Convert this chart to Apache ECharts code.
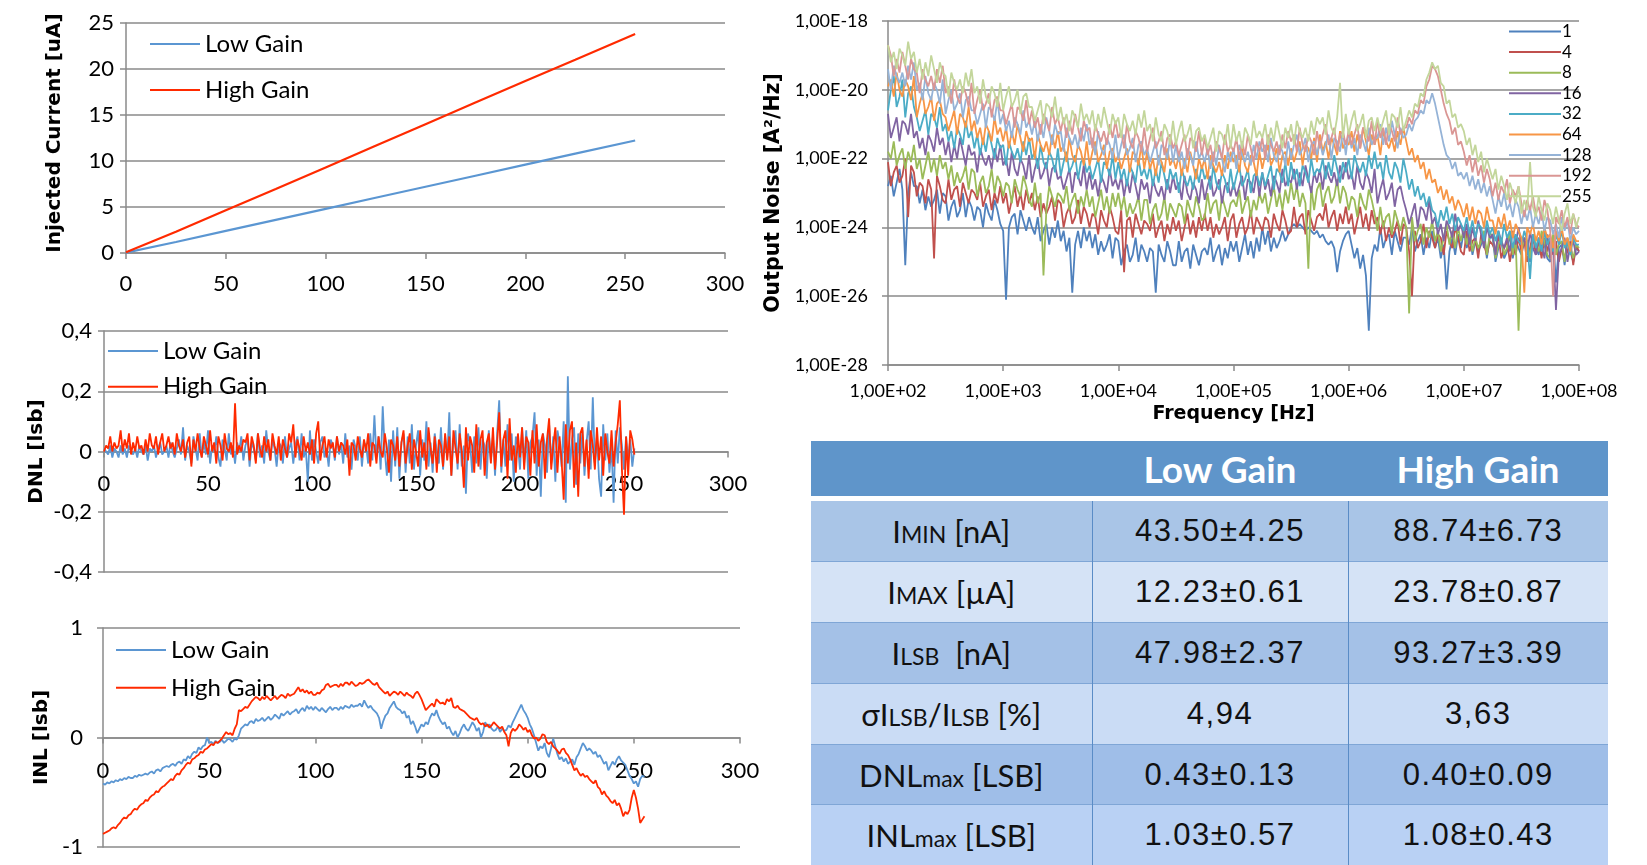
<!DOCTYPE html>
<html>
<head>
<meta charset="utf-8">
<script src="https://cdn.jsdelivr.net/npm/echarts@6/dist/echarts.min.js"></script>
<style>
  body { margin: 0; background: #fff; }
  #chart { position: absolute; left: 0; top: 0; width: 1647px; height: 865px; }
  #tbl { position: absolute; left: 811px; top: 441px; width: 797px; border-collapse: collapse; table-layout: fixed; font-family: Lato, sans-serif; }
  #tbl th { background: #5f95ca; color: #fff; font-weight: bold; font-size: 37px; height: 55px; padding: 0; border-bottom: 5px solid #fff; }
  #tbl td { height: 59.9px; padding: 0; text-align: center; border-left: 1.5px solid #5a8cc6; border-top: 1.5px solid #7fa6d6; color: #111; }
  #tbl td.lab { font-size: 31px; border-left: none; }
  #tbl td.val { font-family: "Liberation Sans", Arial, sans-serif; font-size: 31px; letter-spacing: 1.5px; }
  #tbl small { font-size: 23px; }
</style>
</head>
<body>
<div id="chart"></div>
<table id="tbl">
  <colgroup><col style="width:281px"><col style="width:256px"><col style="width:260px"></colgroup>
  <tr><th></th><th>Low Gain</th><th>High Gain</th></tr>
  <tr style="background:#a9c5e7"><td class="lab">I<small>MIN</small> [nA]</td><td class="val">43.50±4.25</td><td class="val">88.74±6.73</td></tr>
  <tr style="background:#d5e3f6"><td class="lab">I<small>MAX</small> [µA]</td><td class="val">12.23±0.61</td><td class="val">23.78±0.87</td></tr>
  <tr style="background:#a4c1e7"><td class="lab">I<small>LSB</small>&nbsp; [nA]</td><td class="val">47.98±2.37</td><td class="val">93.27±3.39</td></tr>
  <tr style="background:#cadcf5"><td class="lab">σI<small>LSB</small>/I<small>LSB</small> [%]</td><td class="val">4,94</td><td class="val">3,63</td></tr>
  <tr style="background:#9fbee8"><td class="lab">DNL<small>max</small> [LSB]</td><td class="val">0.43±0.13</td><td class="val">0.40±0.09</td></tr>
  <tr style="background:#b9d1f4"><td class="lab">INL<small>max</small> [LSB]</td><td class="val">1.03±0.57</td><td class="val">1.08±0.43</td></tr>
</table>
<script>
// 注入电流 (uA) 与 DAC 码
const currentCodes = [0, 25, 50, 75, 100, 125, 150, 175, 200, 225, 255]
const currentLow = [0.04, 1.2, 2.4, 3.6, 4.8, 6.0, 7.2, 8.4, 9.6, 10.8, 12.23]
const currentHigh = [0.09, 2.3, 4.65, 6.95, 9.3, 11.65, 14.0, 16.35, 18.7, 21.0, 23.8]

// DNL [lsb], 码 0..255
const dnlLow = [
  .01,.00,-.01,.02,-.02,.01,.00,-.02,.02,-.01,
  .01,-.02,.02,.00,-.01,.01,-.02,.02,.00,-.01,
  .02,-.03,.01,.00,.02,-.02,.01,.03,-.01,.00,
  .02,-.02,.03,.00,-.02,.01,.04,-.01,.08,-.03,
  .02,.00,-.04,.05,.01,-.03,.06,-.02,.03,-.01,
  .07,-.04,.02,.00,.05,-.02,-.05,.04,.01,-.03,
  .06,-.01,.02,-.04,.03,.00,.05,-.03,.02,.04,
  -.05,.03,.01,-.03,.06,-.02,.02,-.04,.07,.00,
  -.03,.04,.01,-.05,.03,.02,-.04,.05,-.02,.01,
  .03,-.04,.02,.05,-.03,.06,-.02,.01,-.10,.07,
  -.03,.04,.00,-.04,.03,.05,-.02,.01,-.05,.04,
  .02,-.03,.05,-.01,.03,-.04,.06,-.02,.02,-.06,
  .04,.01,-.03,.05,-.05,.03,.02,-.04,.06,-.03,
  .12,-.02,.05,-.06,.15,.00,-.08,.04,-.10,.07,
  -.05,.08,-.09,.03,.06,-.07,.05,-.04,.09,-.06,
  .02,.07,-.08,.04,-.03,.10,-.05,.03,-.07,.06,
  .00,-.04,.08,-.06,.05,-.02,.13,-.08,.04,.07,
  -.06,.09,-.05,.02,-.14,.06,.03,-.07,.05,-.04,
  .08,-.06,.04,.02,-.09,.07,-.03,.05,-.08,.06,
  .17,-.07,.04,-.05,.09,-.03,.06,-.10,.05,.02,
  -.06,.08,-.04,.07,-.09,.03,.05,.13,-.08,.04,
  -.15,.06,.02,-.07,.09,-.04,.05,-.10,.07,.03,
  -.05,.10,-.17,.25,-.06,.04,.08,-.11,.06,-.04,
  .07,-.08,.03,.10,-.06,.18,-.04,.05,-.09,-.15,
  .09,-.03,.06,-.07,.02,-.17,.07,-.04,.08,.02,
  -.06,.05,-.03,.04,-.05,.01
]
const dnlHigh = [
  .00,.02,.01,.05,.00,.03,.01,.02,.07,.00,
  .04,.01,.06,-.01,.03,.00,.05,.01,.02,-.01,
  .04,.00,.06,.02,.01,.05,-.01,.03,.06,.00,
  .02,.05,.01,.03,-.01,.06,.02,.00,.04,-.02,
  .03,.05,-.05,.04,.00,.06,.01,-.02,.05,.02,
  -.01,.07,.00,.03,-.04,.05,.02,-.03,.06,.01,
  .00,.03,-.02,.16,-.01,.02,.00,.04,.03,.06,
  -.03,.05,.02,-.04,.06,.01,-.02,.05,.00,.04,
  -.03,.06,.02,-.01,.05,-.03,.04,.01,-.02,.06,
  .03,.09,-.02,.04,.01,-.03,.05,.00,.03,-.01,
  .04,-.04,.06,.10,-.03,.02,.05,-.02,.04,.01,
  .03,-.02,.05,.00,.03,.02,-.01,.04,-.08,.03,
  .02,-.03,.05,.01,-.02,.04,.00,.06,-.05,.03,
  .02,-.04,.05,.00,-.02,.06,.01,-.07,.04,.02,
  -.03,.05,-.05,.03,.07,-.04,.02,.06,-.06,.04,
  .00,-.05,.07,-.02,.03,-.06,.08,.01,-.04,.05,
  -.07,.04,.02,-.05,.06,-.03,.05,-.08,.07,.01,
  -.04,.06,.00,-.12,.08,-.03,.05,.02,-.07,.09,
  -.05,.04,.07,-.08,.03,.06,-.04,.08,-.06,.03,
  .13,-.05,.04,.07,-.09,.11,-.03,.02,-.07,.06,
  -.02,.08,-.06,.05,.03,-.08,.07,-.04,.09,-.05,
  .03,.06,-.09,.04,.11,-.06,.02,.08,-.07,.05,
  -.03,-.16,.09,-.04,.07,.10,-.12,.03,-.15,.06,
  .08,-.05,.04,-.09,.07,.02,-.06,.08,-.03,.05,
  -.08,.06,.00,-.04,.07,-.05,.03,.09,.17,-.06,
  -.21,.05,-.08,.07,.04,-.01
]

// INL [lsb], 码 0..255
const inlLow = [
  -.42,-.43,-.41,-.42,-.40,-.41,-.39,-.40,-.38,-.39,
  -.37,-.38,-.36,-.37,-.37,-.35,-.36,-.34,-.35,-.34,
  -.33,-.34,-.32,-.31,-.33,-.30,-.29,-.31,-.28,-.27,
  -.26,-.27,-.25,-.24,-.26,-.23,-.22,-.24,-.20,-.21,
  -.17,-.19,-.15,-.13,-.14,-.09,-.11,-.08,-.07,.00,
  -.05,-.04,-.06,-.03,-.05,-.04,-.02,-.05,-.03,-.01,
  -.02,-.04,-.01,-.02,.02,.08,.10,.12,.11,.14,
  .15,.13,.17,.15,.16,.18,.15,.17,.19,.16,
  .18,.21,.19,.17,.22,.20,.22,.24,.21,.23,
  .24,.26,.22,.25,.27,.24,.29,.26,.28,.25,
  .28,.26,.24,.27,.25,.23,.26,.28,.25,.27,
  .27,.25,.28,.26,.29,.28,.27,.30,.28,.29,
  .29,.31,.28,.34,.30,.27,.29,.26,.24,.22,
  .18,.08,.15,.20,.22,.27,.30,.33,.28,.26,
  .25,.22,.24,.18,.20,.12,.15,.10,.04,.08,
  .12,.10,.14,.12,.18,.22,.20,.25,.19,.15,
  .12,.14,.08,.10,.05,.02,.06,.00,.04,.09,
  .12,.08,.06,.10,.14,.11,.06,.09,.00,.05,
  .14,.10,.12,.08,.06,.07,.10,.05,.08,.06,
  .07,.11,.09,.14,.18,.22,.26,.30,.25,.22,
  .18,.12,.08,.02,-.05,-.12,-.08,-.10,-.05,-.14,
  -.18,-.10,-.01,-.08,-.15,-.20,-.18,-.22,-.19,-.24,
  -.22,-.20,-.25,-.18,-.15,-.10,-.05,-.08,-.12,-.10,
  -.12,-.15,-.13,-.18,-.16,-.20,-.24,-.22,-.30,-.26,
  -.22,-.25,-.20,-.17,-.21,-.23,-.25,-.30,-.35,-.38,
  -.42,-.40,-.45,-.38,-.35,-.36
]
const inlHigh = [
  -.88,-.87,-.86,-.85,-.83,-.82,-.83,-.80,-.78,-.75,
  -.73,-.74,-.71,-.70,-.67,-.65,-.66,-.63,-.61,-.60,
  -.57,-.58,-.55,-.53,-.52,-.49,-.50,-.47,-.45,-.44,
  -.42,-.40,-.38,-.39,-.35,-.33,-.34,-.30,-.28,-.25,
  -.23,-.24,-.20,-.19,-.17,-.16,-.13,-.14,-.11,-.10,
  -.08,-.06,-.07,-.04,-.05,-.03,-.01,.02,.05,.03,
  .04,.02,.08,.12,.25,.24,.26,.28,.27,.30,
  .33,.35,.37,.36,.34,.37,.35,.38,.36,.34,
  .36,.38,.35,.37,.39,.38,.36,.40,.38,.39,
  .40,.43,.46,.42,.44,.41,.43,.40,.42,.39,
  .39,.41,.40,.43,.44,.48,.49,.46,.47,.48,
  .48,.46,.49,.47,.50,.50,.48,.51,.49,.47,
  .48,.50,.49,.50,.52,.53,.51,.49,.48,.50,
  .46,.44,.42,.40,.42,.38,.40,.42,.41,.39,
  .42,.40,.38,.41,.39,.38,.36,.40,.42,.39,
  .35,.30,.25,.27,.29,.31,.28,.35,.33,.31,
  .32,.30,.35,.33,.36,.28,.27,.29,.26,.25,
  .24,.22,.20,.18,.17,.16,.18,.14,.12,.13,
  .10,.12,.09,.11,.14,.12,.10,.08,.10,.05,
  .02,-.08,.04,.08,.06,.08,.12,.10,.07,.09,
  .05,.07,.02,-.01,.00,-.03,-.01,.03,.02,-.04,
  -.06,-.04,-.08,-.10,-.12,-.15,-.11,-.10,-.14,-.16,
  -.20,-.25,-.30,-.28,-.32,-.35,-.33,-.36,-.35,-.38,
  -.40,-.42,-.39,-.45,-.47,-.52,-.49,-.53,-.55,-.58,
  -.60,-.57,-.62,-.60,-.65,-.72,-.68,-.70,-.66,-.55,
  -.48,-.55,-.65,-.78,-.75,-.72
]

// 输出噪声谱: 频率取 log10(Hz), 噪声取 log10(A^2/Hz)
const freqExp = [
  2,2.025,2.05,2.075,2.1,2.125,2.15,2.175,2.2,2.225,
  2.25,2.275,2.3,2.325,2.35,2.375,2.4,2.425,2.45,2.475,
  2.5,2.525,2.55,2.575,2.6,2.625,2.65,2.675,2.7,2.725,
  2.75,2.775,2.8,2.825,2.85,2.875,2.9,2.925,2.95,2.975,
  3,3.025,3.05,3.075,3.1,3.125,3.15,3.175,3.2,3.225,
  3.25,3.275,3.3,3.325,3.35,3.375,3.4,3.425,3.45,3.475,
  3.5,3.525,3.55,3.575,3.6,3.625,3.65,3.675,3.7,3.725,
  3.75,3.775,3.8,3.825,3.85,3.875,3.9,3.925,3.95,3.975,
  4,4.025,4.05,4.075,4.1,4.125,4.15,4.175,4.2,4.225,
  4.25,4.275,4.3,4.325,4.35,4.375,4.4,4.425,4.45,4.475,
  4.5,4.525,4.55,4.575,4.6,4.625,4.65,4.675,4.7,4.725,
  4.75,4.775,4.8,4.825,4.85,4.875,4.9,4.925,4.95,4.975,
  5,5.025,5.05,5.075,5.1,5.125,5.15,5.175,5.2,5.225,
  5.25,5.275,5.3,5.325,5.35,5.375,5.4,5.425,5.45,5.475,
  5.5,5.525,5.55,5.575,5.6,5.625,5.65,5.675,5.7,5.725,
  5.75,5.775,5.8,5.825,5.85,5.875,5.9,5.925,5.95,5.975,
  6,6.025,6.05,6.075,6.1,6.125,6.15,6.175,6.2,6.225,
  6.25,6.275,6.3,6.325,6.35,6.375,6.4,6.425,6.45,6.475,
  6.5,6.525,6.55,6.575,6.6,6.625,6.65,6.675,6.7,6.725,
  6.75,6.775,6.8,6.825,6.85,6.875,6.9,6.925,6.95,6.975,
  7,7.025,7.05,7.075,7.1,7.125,7.15,7.175,7.2,7.225,
  7.25,7.275,7.3,7.325,7.35,7.375,7.4,7.425,7.45,7.475,
  7.5,7.525,7.55,7.575,7.6,7.625,7.65,7.675,7.7,7.725,
  7.75,7.775,7.8,7.825,7.85,7.875,7.9,7.925,7.95,7.975,
  8
]
const noiseCodes = ['1', '4', '8', '16', '32', '64', '128', '192', '255']
const noise1 = [
  -22.8,-22.5,-23.1,-22.7,-22.3,-22.9,-25.1,-23.0,-22.4,-22.8,
  -22.8,-23.3,-22.9,-23.5,-23.1,-23.4,-23.2,-22.9,-23.6,-23.0,
  -23.1,-23.8,-23.4,-23.2,-23.7,-23.5,-23.0,-23.7,-23.2,-23.4,
  -23.8,-23.4,-23.5,-24.0,-23.3,-23.6,-23.8,-23.2,-23.5,-23.9,
  -24.1,-26.1,-24.0,-23.7,-23.6,-24.2,-23.5,-23.8,-24.1,-23.7,
  -24.0,-24.2,-23.7,-24.4,-24.1,-23.9,-24.5,-24.0,-24.3,-23.8,
  -24.4,-24.1,-24.7,-24.3,-25.9,-24.5,-24.1,-24.6,-24.0,-24.4,
  -24.1,-24.6,-24.2,-24.8,-24.4,-24.7,-24.5,-24.2,-24.9,-24.3,
  -24.4,-25.1,-24.7,-24.5,-25.0,-24.8,-24.3,-25.0,-24.5,-24.7,
  -25.0,-24.6,-24.7,-25.9,-24.5,-24.8,-25.0,-24.4,-24.7,-25.1,
  -25.1,-24.4,-25.0,-24.7,-24.6,-25.2,-24.5,-24.8,-25.1,-24.7,
  -24.6,-24.8,-24.3,-25.0,-24.7,-24.5,-25.1,-24.6,-24.9,-24.4,
  -24.7,-24.4,-25.0,-24.6,-24.2,-24.8,-24.4,-24.9,-24.3,-24.7,
  -24.0,-24.5,-24.1,-24.7,-24.3,-24.6,-24.4,-24.1,-24.4,-24.2,
  -24.0,-23.9,-24.0,-23.9,-24.0,-24.1,-24.0,-24.1,-24.2,-24.1,
  -24.3,-24.2,-24.4,-24.5,-24.4,-24.6,-25.3,-24.7,-24.4,-24.2,
  -24.1,-24.5,-24.9,-24.6,-25.2,-24.8,-25.4,-27.0,-24.9,-24.5,
  -24.7,-24.0,-24.6,-24.3,-24.2,-24.8,-24.1,-24.4,-24.7,-24.3,
  -24.3,-24.5,-24.0,-24.7,-24.4,-24.2,-24.8,-24.3,-24.6,-24.1,
  -24.6,-24.3,-24.9,-24.5,-25.8,-24.7,-24.3,-24.8,-24.2,-24.6,
  -24.1,-24.6,-24.2,-24.8,-24.4,-24.7,-24.5,-24.2,-24.9,-24.3,
  -24.3,-25.0,-24.6,-24.4,-24.9,-24.7,-24.2,-24.9,-24.4,-24.6,
  -24.8,-24.4,-24.5,-25.0,-24.3,-24.6,-24.8,-24.2,-24.5,-24.9,
  -25.0,-24.3,-25.6,-24.6,-24.5,-25.1,-24.4,-24.7,-25.0,-24.6,
  -24.7
]
const noise4 = [
  -22.1,-22.8,-22.4,-22.2,-22.7,-22.5,-22.0,-23.7,-22.2,-22.4,
  -23.1,-22.7,-22.8,-23.3,-22.6,-22.9,-24.9,-22.5,-22.8,-23.2,
  -23.3,-22.6,-23.2,-22.9,-22.8,-23.4,-22.7,-23.0,-23.3,-22.9,
  -23.0,-23.2,-22.7,-23.4,-23.1,-22.9,-23.5,-23.0,-23.3,-22.8,
  -23.3,-23.0,-23.6,-23.2,-22.8,-23.4,-23.0,-23.5,-22.9,-23.3,
  -23.0,-23.5,-23.1,-23.7,-23.3,-23.6,-23.4,-23.1,-23.8,-23.2,
  -23.3,-24.0,-23.6,-23.4,-23.9,-23.7,-23.2,-23.9,-23.4,-23.6,
  -24.0,-23.6,-23.7,-24.2,-23.5,-23.8,-24.0,-23.4,-23.7,-24.1,
  -24.2,-23.5,-25.3,-23.8,-23.7,-24.3,-23.6,-23.9,-24.2,-23.8,
  -23.9,-24.1,-23.6,-24.3,-24.0,-23.8,-24.4,-23.9,-24.2,-23.7,
  -24.1,-23.8,-24.4,-24.0,-23.6,-24.2,-23.8,-24.3,-23.7,-24.1,
  -23.6,-24.1,-23.7,-24.3,-23.9,-24.2,-24.0,-23.7,-24.4,-23.8,
  -23.6,-24.3,-23.9,-23.7,-24.2,-24.0,-23.5,-24.2,-23.7,-23.9,
  -24.1,-23.7,-23.8,-24.3,-23.6,-23.9,-24.1,-23.5,-23.8,-24.2,
  -24.1,-23.4,-24.0,-23.7,-23.6,-24.2,-23.5,-23.8,-24.1,-23.7,
  -23.6,-23.8,-23.3,-24.0,-23.7,-23.5,-24.1,-23.6,-23.9,-23.4,
  -23.9,-23.6,-24.2,-23.8,-23.4,-24.0,-23.6,-24.1,-23.5,-23.9,
  -23.7,-24.2,-23.8,-24.4,-24.0,-24.3,-24.1,-23.8,-24.5,-23.9,
  -24.0,-24.7,-26.0,-24.1,-24.6,-24.4,-23.9,-24.6,-24.1,-24.3,
  -24.6,-24.2,-24.3,-24.8,-24.1,-24.4,-24.6,-24.0,-24.3,-24.7,
  -24.8,-24.1,-24.7,-24.4,-24.3,-24.9,-24.2,-24.5,-24.8,-24.4,
  -24.5,-24.7,-24.2,-24.9,-24.6,-24.4,-25.0,-24.5,-24.8,-24.3,
  -24.7,-24.4,-25.0,-24.6,-24.2,-24.8,-24.4,-24.9,-24.3,-24.7,
  -24.3,-24.8,-24.4,-25.0,-24.6,-24.9,-24.7,-24.4,-25.1,-24.5,
  -24.7
]
const noise8 = [
  -21.8,-22.0,-21.5,-22.2,-21.9,-21.7,-22.3,-21.8,-22.1,-21.6,
  -22.3,-22.0,-22.6,-22.2,-21.8,-22.4,-22.0,-22.5,-21.9,-22.3,
  -22.1,-22.6,-22.2,-22.8,-22.4,-22.7,-22.5,-22.2,-22.9,-22.3,
  -22.4,-23.1,-22.7,-22.5,-23.0,-22.8,-22.3,-23.0,-22.5,-22.7,
  -23.1,-22.7,-22.8,-23.3,-22.6,-22.9,-23.1,-22.5,-22.8,-23.2,
  -23.4,-22.7,-23.3,-23.0,-25.4,-23.5,-22.8,-23.1,-23.4,-23.0,
  -23.1,-23.3,-22.8,-23.5,-23.2,-23.0,-23.6,-23.1,-23.4,-22.9,
  -23.4,-23.1,-23.7,-23.3,-22.9,-23.5,-23.1,-23.6,-23.0,-23.4,
  -23.0,-23.5,-23.1,-23.7,-23.3,-23.6,-23.4,-23.1,-23.8,-23.2,
  -23.2,-23.9,-23.5,-23.3,-23.8,-23.6,-23.1,-23.8,-23.3,-23.5,
  -23.7,-23.3,-23.4,-23.9,-23.2,-23.5,-23.7,-23.1,-23.4,-23.8,
  -23.7,-23.0,-23.6,-23.3,-23.2,-23.8,-23.1,-23.4,-23.7,-23.3,
  -23.2,-23.4,-22.9,-23.6,-23.3,-23.1,-23.7,-23.2,-23.5,-23.0,
  -23.3,-23.0,-23.6,-23.2,-22.8,-23.4,-23.0,-23.5,-22.9,-23.3,
  -22.7,-23.2,-22.8,-23.4,-23.0,-23.3,-25.2,-22.8,-23.5,-22.9,
  -22.7,-23.4,-23.0,-22.8,-23.3,-23.1,-22.6,-23.3,-22.8,-23.0,
  -23.5,-23.1,-23.2,-23.7,-23.0,-23.3,-23.5,-22.9,-23.2,-23.6,
  -24.1,-23.4,-24.0,-23.7,-23.6,-24.2,-23.5,-23.8,-24.1,-23.7,
  -24.0,-26.5,-23.7,-24.4,-24.1,-23.9,-24.5,-24.0,-24.3,-23.8,
  -24.4,-24.1,-24.7,-24.3,-23.9,-24.5,-24.1,-24.6,-24.0,-24.4,
  -24.0,-24.5,-24.1,-24.7,-24.3,-24.6,-24.4,-24.1,-24.8,-24.2,
  -24.2,-24.9,-24.5,-24.3,-24.8,-24.6,-24.1,-24.8,-24.3,-27.0,
  -24.7,-24.3,-24.4,-24.9,-24.2,-24.5,-24.7,-24.1,-24.4,-24.8,
  -24.9,-24.2,-24.8,-24.5,-24.4,-25.0,-24.3,-24.6,-24.9,-24.5,
  -24.6
]
const noise16 = [
  -20.7,-21.4,-21.1,-20.8,-21.5,-20.9,-21.0,-21.3,-20.7,-21.4,
  -21.2,-21.7,-21.4,-21.9,-21.3,-21.5,-21.8,-21.1,-21.6,-21.4,
  -21.9,-21.5,-22.1,-21.6,-22.0,-21.4,-21.8,-22.2,-21.6,-21.9,
  -21.8,-22.4,-21.7,-22.0,-22.2,-21.9,-22.3,-21.7,-22.1,-21.6,
  -22.2,-22.0,-22.5,-21.8,-22.3,-22.5,-22.0,-22.2,-22.6,-21.9,
  -22.7,-22.3,-22.0,-22.6,-22.4,-22.1,-22.8,-22.3,-22.2,-22.6,
  -22.5,-22.9,-22.6,-22.3,-23.0,-22.4,-22.5,-22.8,-22.2,-22.9,
  -22.4,-22.9,-22.6,-23.1,-22.5,-22.7,-23.0,-22.3,-22.8,-22.6,
  -22.9,-22.5,-23.1,-22.6,-23.0,-22.4,-22.8,-23.2,-22.6,-22.9,
  -22.7,-23.3,-22.6,-22.9,-23.1,-22.8,-23.2,-22.6,-23.0,-22.5,
  -22.9,-22.7,-23.2,-22.5,-23.0,-23.2,-22.7,-22.9,-23.3,-22.6,
  -23.2,-22.8,-22.5,-23.1,-22.9,-22.6,-23.3,-22.8,-22.7,-23.1,
  -22.7,-23.1,-22.8,-22.5,-23.2,-22.6,-22.7,-23.0,-22.4,-23.1,
  -22.4,-22.9,-22.6,-23.1,-22.5,-22.7,-23.0,-22.3,-22.8,-22.6,
  -22.7,-22.3,-22.9,-22.4,-22.8,-22.2,-22.6,-23.0,-22.4,-22.7,
  -22.3,-22.9,-22.2,-22.5,-22.7,-22.4,-22.8,-22.2,-22.6,-22.1,
  -22.6,-22.4,-22.9,-22.2,-22.7,-22.9,-22.4,-22.6,-23.0,-22.3,
  -23.3,-22.9,-22.6,-23.2,-23.0,-22.7,-23.4,-22.9,-22.8,-23.2,
  -23.5,-23.9,-23.6,-23.3,-24.0,-23.4,-23.5,-23.8,-23.2,-23.9,
  -23.7,-24.2,-23.9,-24.4,-23.8,-24.0,-24.3,-23.6,-24.1,-23.9,
  -24.3,-23.9,-24.5,-24.0,-24.4,-23.8,-24.2,-24.6,-24.0,-24.3,
  -24.2,-24.8,-24.1,-24.4,-24.6,-24.3,-24.7,-24.1,-24.5,-24.0,
  -24.5,-24.3,-24.8,-24.1,-24.6,-24.8,-24.3,-24.5,-24.9,-24.2,
  -24.9,-24.5,-26.4,-24.8,-24.6,-24.3,-25.0,-24.5,-24.4,-24.8,
  -24.7
]
const noise32 = [
  -20.6,-20.0,-19.6,-20.5,-20.2,-19.7,-20.8,-20.1,-19.9,-20.5,
  -20.8,-21.2,-20.9,-20.6,-21.3,-20.7,-20.8,-21.1,-20.5,-21.2,
  -21.0,-21.5,-21.2,-21.7,-21.1,-21.3,-21.6,-20.9,-21.4,-21.2,
  -21.7,-21.3,-21.9,-21.4,-21.8,-21.2,-21.6,-22.0,-21.4,-21.7,
  -21.6,-22.2,-21.5,-21.8,-22.0,-21.7,-22.1,-21.5,-21.9,-21.4,
  -22.0,-21.8,-22.3,-21.6,-22.1,-22.3,-21.8,-22.0,-22.4,-21.7,
  -22.5,-22.1,-21.8,-22.4,-22.2,-21.9,-22.6,-22.1,-22.0,-22.4,
  -22.2,-22.6,-22.3,-22.0,-22.7,-22.1,-22.2,-22.5,-21.9,-22.6,
  -22.1,-22.6,-22.3,-22.8,-22.2,-22.4,-22.7,-22.0,-22.5,-22.3,
  -22.6,-22.2,-22.8,-22.3,-22.7,-22.1,-22.5,-22.9,-22.3,-22.6,
  -22.4,-23.0,-22.3,-22.6,-22.8,-22.5,-22.9,-22.3,-22.7,-22.2,
  -22.6,-22.4,-22.9,-22.2,-22.7,-22.9,-22.4,-22.6,-23.0,-22.3,
  -22.9,-22.5,-22.2,-22.8,-22.6,-22.3,-23.0,-22.5,-22.4,-22.8,
  -22.4,-22.8,-22.5,-22.2,-22.9,-22.3,-22.4,-22.7,-22.1,-22.8,
  -22.1,-22.6,-22.3,-22.8,-22.2,-22.4,-22.7,-22.0,-22.5,-22.3,
  -22.4,-22.0,-22.6,-22.1,-22.5,-21.9,-22.3,-22.7,-22.1,-22.4,
  -22.0,-22.6,-21.9,-22.2,-22.4,-22.1,-22.5,-21.9,-22.3,-21.8,
  -22.3,-22.1,-22.6,-21.9,-22.4,-22.6,-22.1,-22.3,-22.7,-22.0,
  -22.4,-22.9,-22.6,-23.1,-22.8,-23.2,-23.0,-23.4,-23.1,-23.5,
  -23.6,-24.0,-23.5,-23.8,-23.4,-23.9,-23.6,-24.1,-23.7,-23.9,
  -24.1,-23.7,-24.2,-23.8,-24.3,-23.9,-24.0,-24.4,-23.8,-24.2,
  -24.0,-24.4,-24.1,-24.5,-23.9,-24.3,-24.1,-24.6,-24.2,-24.4,
  -24.5,-24.1,-24.4,-25.5,-24.2,-24.6,-24.3,-24.7,-24.1,-24.5,
  -24.3,-24.7,-24.2,-24.5,-24.1,-24.6,-24.4,-24.8,-24.3,-24.5,
  -24.5
]
const noise64 = [
  -19.9,-19.7,-20.2,-19.5,-20.0,-20.2,-19.7,-19.9,-20.3,-19.6,
  -20.8,-20.4,-20.1,-20.7,-20.5,-20.2,-20.9,-20.4,-20.3,-20.7,
  -20.8,-21.2,-20.9,-20.6,-21.3,-20.7,-20.8,-21.1,-20.5,-21.2,
  -20.9,-21.4,-21.1,-21.6,-21.0,-21.2,-21.5,-20.8,-21.3,-21.1,
  -21.5,-21.1,-21.7,-21.2,-21.6,-21.0,-21.4,-21.8,-21.2,-21.5,
  -21.4,-22.0,-21.3,-21.6,-21.8,-21.5,-21.9,-21.3,-21.7,-21.2,
  -21.8,-21.6,-22.1,-21.4,-21.9,-22.1,-21.6,-21.8,-22.2,-21.5,
  -22.2,-21.8,-21.5,-22.1,-21.9,-21.6,-22.3,-21.8,-21.7,-22.1,
  -21.9,-22.3,-22.0,-21.7,-22.4,-21.8,-21.9,-22.2,-21.6,-22.3,
  -21.8,-22.3,-22.0,-22.5,-21.9,-22.1,-22.4,-21.7,-22.2,-22.0,
  -22.3,-21.9,-22.5,-22.0,-22.4,-21.8,-22.2,-22.6,-22.0,-22.3,
  -22.0,-22.6,-21.9,-22.2,-22.4,-22.1,-22.5,-21.9,-22.3,-21.8,
  -22.1,-21.9,-22.4,-21.7,-22.2,-22.4,-21.9,-22.1,-22.5,-21.8,
  -22.3,-21.9,-21.6,-22.2,-22.0,-21.7,-22.4,-21.9,-21.8,-22.2,
  -21.7,-22.1,-21.8,-21.5,-22.2,-21.6,-21.7,-22.0,-21.4,-22.1,
  -21.3,-21.8,-21.5,-22.0,-21.4,-21.6,-21.9,-21.2,-21.7,-21.5,
  -21.6,-21.2,-21.8,-21.3,-21.7,-21.1,-21.5,-21.9,-21.3,-21.6,
  -21.3,-21.9,-21.2,-21.5,-21.7,-21.4,-21.8,-21.2,-21.6,-21.1,
  -21.5,-21.9,-21.7,-22.1,-21.9,-22.3,-22.1,-22.6,-22.3,-22.7,
  -22.6,-23.0,-22.8,-23.2,-22.9,-23.3,-23.1,-23.5,-23.2,-23.4,
  -23.7,-23.3,-23.8,-23.4,-23.9,-23.5,-23.6,-24.0,-23.4,-23.8,
  -23.8,-24.2,-23.7,-24.0,-23.6,-24.1,-23.8,-24.3,-23.9,-24.1,
  -24.3,-25.9,-24.0,-24.2,-23.9,-24.4,-24.1,-24.5,-24.0,-24.3,
  -24.2,-24.6,-24.1,-24.4,-24.0,-24.5,-24.3,-24.7,-24.2,-24.4,
  -24.4
]
const noise128 = [
  -19.4,-20.0,-19.3,-19.6,-19.8,-19.5,-19.9,-19.3,-19.7,-19.2,
  -20.0,-19.8,-20.3,-19.6,-20.1,-20.3,-19.8,-20.0,-20.4,-19.7,
  -20.7,-20.3,-20.0,-20.6,-20.4,-20.1,-20.8,-20.3,-20.2,-20.6,
  -20.6,-21.0,-20.7,-20.4,-21.1,-20.5,-20.6,-20.9,-20.3,-21.0,
  -20.7,-21.2,-20.9,-21.4,-20.8,-21.0,-21.3,-20.6,-21.1,-20.9,
  -21.3,-20.9,-21.5,-21.0,-21.4,-20.8,-21.2,-21.6,-21.0,-21.3,
  -21.2,-21.8,-21.1,-21.4,-21.6,-21.3,-21.7,-21.1,-21.5,-21.0,
  -21.6,-21.4,-21.9,-21.2,-21.7,-21.9,-21.4,-21.6,-22.0,-21.3,
  -22.0,-21.6,-21.3,-21.9,-21.7,-21.4,-22.1,-21.6,-21.5,-21.9,
  -21.7,-22.1,-21.8,-21.5,-22.2,-21.6,-21.7,-22.0,-21.4,-22.1,
  -21.6,-22.1,-21.8,-22.3,-21.7,-21.9,-22.2,-21.5,-22.0,-21.8,
  -22.1,-21.7,-22.3,-21.8,-22.2,-21.6,-22.0,-22.4,-21.8,-22.1,
  -21.7,-22.3,-21.6,-21.9,-22.1,-21.8,-22.2,-21.6,-22.0,-21.5,
  -21.8,-21.6,-22.1,-21.4,-21.9,-22.1,-21.6,-21.8,-22.2,-21.5,
  -22.0,-21.6,-21.3,-21.9,-21.7,-21.4,-22.1,-21.6,-21.5,-21.9,
  -21.5,-21.9,-21.6,-21.3,-22.0,-21.4,-21.5,-21.8,-21.2,-21.9,
  -21.2,-21.7,-21.4,-21.9,-21.3,-21.5,-21.8,-21.1,-21.6,-21.4,
  -21.4,-21.0,-21.6,-21.1,-21.5,-20.9,-21.3,-21.7,-21.1,-21.4,
  -21.3,-21.0,-21.2,-20.9,-20.8,-20.6,-20.7,-20.3,-20.4,-20.1,
  -20.4,-20.8,-21.2,-21.6,-21.9,-22.0,-22.3,-22.1,-22.5,-22.4,
  -22.6,-22.4,-22.8,-22.5,-22.9,-22.6,-23.0,-22.7,-23.1,-22.8,
  -23.2,-23.6,-23.1,-23.4,-23.0,-23.5,-23.3,-23.7,-23.2,-23.4,
  -23.9,-23.5,-23.8,-23.4,-24.0,-23.6,-23.9,-23.5,-24.1,-23.7,
  -23.8,-24.2,-23.9,-24.3,-23.7,-24.1,-23.8,-24.4,-24.0,-24.2,
  -24.1
]
const noise192 = [
  -18.7,-19.0,-19.6,-19.1,-19.5,-18.9,-19.3,-19.7,-19.1,-19.4,
  -19.5,-20.1,-19.4,-19.7,-19.9,-19.6,-20.0,-19.4,-19.8,-19.3,
  -20.1,-19.9,-20.4,-19.7,-20.2,-20.4,-19.9,-20.1,-20.5,-19.8,
  -20.7,-20.3,-20.0,-20.6,-20.4,-20.1,-20.8,-20.3,-20.2,-20.6,
  -20.6,-21.0,-20.7,-20.4,-21.1,-20.5,-20.6,-20.9,-20.3,-21.0,
  -20.6,-21.1,-20.8,-21.3,-20.7,-20.9,-21.2,-20.5,-21.0,-20.8,
  -21.2,-20.8,-21.4,-20.9,-21.3,-20.7,-21.1,-21.5,-20.9,-21.2,
  -21.1,-21.7,-21.0,-21.3,-21.5,-21.2,-21.6,-21.0,-21.4,-20.9,
  -21.4,-21.2,-21.7,-21.0,-21.5,-21.7,-21.2,-21.4,-21.8,-21.1,
  -21.8,-21.4,-21.1,-21.7,-21.5,-21.2,-21.9,-21.4,-21.3,-21.7,
  -21.5,-21.9,-21.6,-21.3,-22.0,-21.4,-21.5,-21.8,-21.2,-21.9,
  -21.4,-21.9,-21.6,-22.1,-21.5,-21.7,-22.0,-21.3,-21.8,-21.6,
  -21.8,-21.4,-22.0,-21.5,-21.9,-21.3,-21.7,-22.1,-21.5,-21.8,
  -21.4,-22.0,-21.3,-21.6,-21.8,-21.5,-21.9,-21.3,-21.7,-21.2,
  -21.5,-21.3,-21.8,-21.1,-21.6,-21.8,-21.3,-21.5,-21.9,-21.2,
  -21.7,-21.3,-21.0,-21.6,-21.4,-21.1,-21.8,-21.3,-21.2,-21.6,
  -21.2,-21.6,-21.3,-21.0,-21.7,-21.1,-21.2,-21.5,-20.9,-21.6,
  -20.9,-21.4,-21.1,-21.6,-21.0,-21.2,-21.5,-20.8,-21.3,-21.1,
  -21.1,-20.8,-21.0,-20.6,-20.7,-20.3,-20.4,-19.9,-19.7,-19.3,
  -19.4,-19.6,-20.0,-20.4,-20.7,-20.9,-21.3,-21.1,-21.6,-21.5,
  -21.8,-22.2,-21.9,-22.4,-22.0,-22.5,-22.2,-22.7,-22.3,-22.6,
  -23.1,-22.7,-23.2,-22.8,-23.0,-22.6,-23.3,-22.9,-23.1,-22.8,
  -23.3,-23.7,-23.2,-23.5,-23.1,-23.6,-23.4,-23.8,-23.2,-23.5,
  -24.1,-26.0,-23.7,-23.9,-23.5,-24.0,-23.7,-24.2,-23.6,-23.9,
  -24.0
]
const noise255 = [
  -18.7,-19.2,-18.9,-19.4,-18.8,-19.0,-19.3,-18.6,-19.1,-18.9,
  -19.5,-19.1,-19.7,-19.2,-19.6,-19.0,-19.4,-19.8,-19.2,-19.5,
  -19.6,-20.2,-19.5,-19.8,-20.0,-19.7,-20.1,-19.5,-19.9,-19.4,
  -20.1,-19.9,-20.4,-19.7,-20.2,-20.4,-19.9,-20.1,-20.5,-19.8,
  -20.6,-20.2,-19.9,-20.5,-20.3,-20.0,-20.7,-20.2,-20.1,-20.5,
  -20.5,-20.9,-20.6,-20.3,-21.0,-20.4,-20.5,-20.8,-20.2,-20.9,
  -20.5,-21.0,-20.7,-21.2,-20.6,-20.8,-21.1,-20.4,-20.9,-20.7,
  -21.0,-20.6,-21.2,-20.7,-21.1,-20.5,-20.9,-21.3,-20.7,-21.0,
  -20.8,-21.4,-20.7,-21.0,-21.2,-20.9,-21.3,-20.7,-21.1,-20.6,
  -21.2,-21.0,-21.5,-20.8,-21.3,-21.5,-21.0,-21.2,-21.6,-20.9,
  -21.6,-21.2,-20.9,-21.5,-21.3,-21.0,-21.7,-21.2,-21.1,-21.5,
  -21.3,-21.7,-21.4,-21.1,-21.8,-21.2,-21.3,-21.6,-21.0,-21.7,
  -21.0,-21.5,-21.2,-21.7,-21.1,-21.3,-21.6,-20.9,-21.4,-21.2,
  -21.4,-21.0,-21.6,-21.1,-21.5,-20.9,-21.3,-21.7,-21.1,-21.4,
  -21.0,-21.6,-20.9,-21.2,-21.4,-21.1,-21.5,-20.9,-21.3,-20.8,
  -21.0,-20.8,-21.3,-20.6,-21.1,-21.3,-20.8,-19.8,-21.4,-20.7,
  -21.3,-20.9,-20.6,-21.2,-21.0,-20.7,-21.4,-20.9,-20.8,-21.2,
  -20.8,-21.2,-20.9,-20.6,-21.3,-20.7,-20.8,-21.1,-20.5,-21.2,
  -20.9,-20.6,-20.8,-20.4,-20.5,-20.1,-20.2,-19.7,-19.5,-19.2,
  -19.4,-19.3,-19.8,-19.9,-20.4,-20.3,-20.8,-20.7,-21.1,-21.0,
  -21.2,-21.6,-21.4,-21.9,-21.6,-22.1,-21.8,-22.4,-22.0,-22.3,
  -22.6,-22.3,-22.9,-22.5,-22.8,-23.2,-22.7,-23.0,-23.3,-22.8,
  -23.6,-23.2,-23.5,-22.1,-23.4,-23.7,-23.1,-23.5,-23.8,-23.3,
  -23.5,-23.9,-23.4,-23.8,-24.1,-23.6,-23.3,-23.9,-23.6,-24.0,
  -23.7
]
const noiseSets = [noise1, noise4, noise8, noise16, noise32, noise64, noise128, noise192, noise255]

const BLUE = '#5b96d2'
const RED = '#ff2a00'
const GRAY = '#8a8a8a'
const noiseColors = ['#4f81bd', '#c0504d', '#9bbb59', '#8064a2', '#4bacc6', '#f79646', '#95b3d7', '#da9694', '#c3d69b']
const FONT = 'Lato'
const TITLE_FONT = 'DejaVu Sans'

const myChart = echarts.init(document.getElementById('chart'))

// 逗号小数
const comma = v => (Math.abs(v) < 1e-9 ? '0' : String(Math.round(v * 10) / 10).replace('.', ','))
const pad2 = n => String(Math.abs(Math.round(n))).padStart(2, '0')

function valueX(gridIndex, min, max, interval, fontSize, margin, extra) {
  return Object.assign({
    type: 'value', gridIndex, min, max, interval,
    axisLine: { show: true, onZero: false, lineStyle: { color: GRAY, width: 1.5 } },
    axisTick: { show: true, length: 6, lineStyle: { color: GRAY, width: 1.5 } },
    axisLabel: { fontFamily: FONT, fontSize, color: '#000', margin },
    splitLine: { show: false }
  }, extra || {})
}
function valueY(gridIndex, min, max, interval, fontSize, margin, name, nameGap, nameSize, extra) {
  return Object.assign({
    type: 'value', gridIndex, min, max, interval,
    name, nameLocation: 'middle', nameGap, nameRotate: 90,
    nameTextStyle: { fontFamily: TITLE_FONT, fontWeight: 'bold', fontSize: nameSize, color: '#000' },
    axisLine: { show: true, onZero: false, lineStyle: { color: GRAY, width: 1.5 } },
    axisTick: { show: true, length: 6, lineStyle: { color: GRAY, width: 1.5 } },
    axisLabel: { fontFamily: FONT, fontSize, color: '#000', margin },
    splitLine: { show: true, lineStyle: { color: GRAY, width: 1.5 } }
  }, extra || {})
}
function gainLegend(left, top, gap) {
  return {
    data: ['Low Gain', 'High Gain'], orient: 'vertical', left, top,
    icon: 'rect', itemWidth: 50, itemHeight: 2, itemGap: gap, selectedMode: false,
    textStyle: { fontFamily: FONT, fontSize: 24, color: '#000', lineHeight: 25 }
  }
}
function gainSeries(name, xi, data, color, width) {
  return { name, type: 'line', xAxisIndex: xi, yAxisIndex: xi, data, showSymbol: false, symbol: 'none',
    lineStyle: { color, width }, itemStyle: { color }, animation: false }
}
const pairs = arr => arr.map((v, i) => [i, v])

const series = [
  gainSeries('Low Gain', 0, currentCodes.map((c, i) => [c, currentLow[i]]), BLUE, 2.2),
  gainSeries('High Gain', 0, currentCodes.map((c, i) => [c, currentHigh[i]]), RED, 2.2),
  gainSeries('Low Gain', 1, pairs(dnlLow), BLUE, 1.8),
  gainSeries('High Gain', 1, pairs(dnlHigh), RED, 1.8),
  gainSeries('Low Gain', 2, pairs(inlLow), BLUE, 1.8),
  gainSeries('High Gain', 2, pairs(inlHigh), RED, 1.8)
]
noiseSets.forEach((vals, k) => {
  series.push({
    name: noiseCodes[k], type: 'line', xAxisIndex: 3, yAxisIndex: 3,
    data: freqExp.map((f, i) => [f, vals[i]]), showSymbol: false, symbol: 'none',
    lineStyle: { color: noiseColors[k], width: 1.8 }, itemStyle: { color: noiseColors[k] }, animation: false
  })
})

const option = {
  animation: false,
  grid: [
    { left: 126, top: 23, width: 599, height: 230 },
    { left: 104, top: 331, width: 624, height: 241 },
    { left: 103, top: 628, width: 637, height: 219 },
    { left: 888, top: 21, width: 691, height: 344 }
  ],
  xAxis: [
    valueX(0, 0, 300, 50, 22, 20),
    // DNL/INL 的 x 轴画在 y=0 处
    valueX(1, 0, 300, 50, 22, 21, { offset: -120.5 }),
    valueX(2, 0, 300, 50, 22, 22, { offset: -109.5 }),
    valueX(3, 2, 8, 1, 18, 17, {
      name: 'Frequency [Hz]', nameLocation: 'middle', nameGap: 40,
      nameTextStyle: { fontFamily: TITLE_FONT, fontWeight: 'bold', fontSize: 19, color: '#000' },
      axisLabel: { fontFamily: FONT, fontSize: 18, color: '#000', margin: 17, formatter: v => '1,00E+' + pad2(v) }
    })
  ],
  yAxis: [
    valueY(0, 0, 25, 5, 22, 12, 'Injected Current [uA]', 61, 20, {
      nameTextStyle: { fontFamily: TITLE_FONT, fontWeight: 'bold', fontSize: 20, color: '#000', padding: [0, 0, 0, 10] }
    }),
    valueY(1, -0.4, 0.4, 0.2, 22, 12, 'DNL [lsb]', 57, 20, {
      axisLabel: { fontFamily: FONT, fontSize: 22, color: '#000', margin: 12, formatter: comma }
    }),
    valueY(2, -1, 1, 1, 22, 20, 'INL [lsb]', 51, 20),
    valueY(3, -28, -18, 2, 18, 20, 'Output Noise [A²/Hz]', 104, 20.5, {
      axisLabel: { fontFamily: FONT, fontSize: 18, color: '#000', margin: 20, formatter: v => '1,00E' + (v < 0 ? '-' : '+') + pad2(v) }
    })
  ],
  legend: [
    gainLegend(145, 26.5, 21),
    gainLegend(103, 333.5, 10.7),
    gainLegend(111, 632.5, 12.8),
    {
      data: noiseCodes, orient: 'vertical', left: 1504, top: 18,
      icon: 'rect', itemWidth: 52, itemHeight: 2, itemGap: 3.6, selectedMode: false,
      textStyle: { fontFamily: FONT, fontSize: 17, color: '#000', lineHeight: 17, padding: [0, 0, 0, -4] }
    }
  ],
  series
}

option && myChart.setOption(option)
window.addEventListener('resize', () => {
  myChart.resize()
})
</script>
</body>
</html>
